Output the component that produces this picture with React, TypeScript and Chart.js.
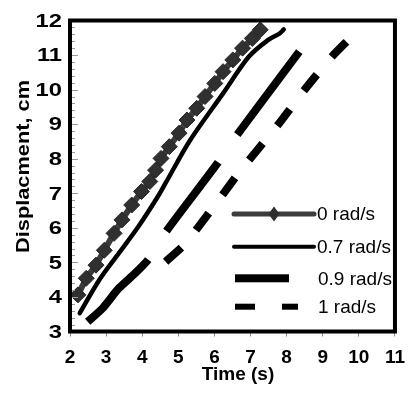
import React, { useEffect, useRef } from "react";
import { Chart, registerables } from "chart.js";

Chart.register(...registerables);

const seriesLabels = ["0 rad/s", "0.7 rad/s", "0.9 rad/s", "1 rad/s"];

const s0x = [2.22, 2.45, 2.72, 2.95, 3.22, 3.44, 3.71, 3.98, 4.21, 4.37, 4.52, 4.75, 5.02, 5.24, 5.51, 5.74, 6.01, 6.24, 6.51, 6.78, 7.05, 7.27];
const s0y = [4.06, 4.54, 4.92, 5.35, 5.84, 6.23, 6.66, 7.05, 7.34, 7.67, 8.01, 8.35, 8.74, 9.12, 9.46, 9.8, 10.18, 10.52, 10.86, 11.2, 11.48, 11.73];

const s1x = [2.27, 2.81, 3.35, 3.89, 4.43, 4.65, 5.33, 6.24, 6.95, 7.49, 7.81, 7.92];
const s1y = [3.53, 4.49, 5.26, 6.03, 6.9, 7.3, 8.54, 9.89, 10.95, 11.44, 11.63, 11.74];

const s2x = [2.49, 2.9, 3.35, 3.8, 4.16, 4.66, 6.05, 6.59, 8.35];
const s2y = [3.28, 3.67, 4.25, 4.68, 5.07, 5.89, 7.82, 8.64, 11.1];

const s3x = [4.65, 5.2, 6.32, 6.73, 7.76, 8.53, 9.25, 9.75];
const s3y = [5.02, 5.55, 7.09, 7.67, 8.98, 10.04, 10.95, 11.48];

const xTicks = [2, 3, 4, 5, 6, 7, 8, 9, 10, 11];
const yTicks = [3, 4, 5, 6, 7, 8, 9, 10, 11, 12];

const xTitle = "Time (s)";
const yTitle = "Displacment, cm";

const FONT = "'Liberation Sans', Arial, sans-serif";

const pts = (xs: number[], ys: number[]) => xs.map((x, i) => ({ x, y: ys[i] }));

const framePlugin = {
  id: "frame",
  afterDraw(chart: any) {
    const { ctx, chartArea } = chart;
    const { left, right, top, bottom } = chartArea;
    const yScale = chart.scales.y;
    ctx.save();
    ctx.strokeStyle = "#999";
    ctx.lineWidth = 1;
    for (let v = yTicks[0]; v <= yTicks[yTicks.length - 1] + 1e-6; v += 0.2) {
      const py = Math.round(yScale.getPixelForValue(v)) + 0.5;
      const major = Math.abs(v - Math.round(v)) < 1e-6;
      ctx.beginPath();
      ctx.moveTo(left + 2, py);
      ctx.lineTo(left + (major ? 8 : 5), py);
      ctx.stroke();
    }
    ctx.strokeStyle = "#000";
    ctx.lineWidth = 4;
    ctx.strokeRect(left, top, right - left, bottom - top);

    ctx.fillStyle = "#000";
    ctx.font = `bold 19px ${FONT}`;
    ctx.textAlign = "right";
    ctx.textBaseline = "middle";
    yTicks.forEach((v) => {
      ctx.save();
      ctx.translate(62, yScale.getPixelForValue(v) + 1);
      ctx.scale(1.25, 1);
      ctx.fillText(String(v), 0, 0);
      ctx.restore();
    });

    ctx.textAlign = "center";
    ctx.fillText(xTitle, 238, 375);

    ctx.save();
    ctx.translate(24, 166.5);
    ctx.rotate(-Math.PI / 2);
    ctx.font = `bold 18px ${FONT}`;
    const w = ctx.measureText(yTitle).width;
    ctx.scale(173 / w, 1);
    ctx.fillText(yTitle, 0, 0);
    ctx.restore();

    const rows = [214, 246.7, 278.3, 306.7];
    ctx.lineCap = "round";
    ctx.strokeStyle = "#3d3d3d";
    ctx.lineWidth = 5;
    ctx.beginPath();
    ctx.moveTo(234, rows[0]);
    ctx.lineTo(314, rows[0]);
    ctx.stroke();
    ctx.fillStyle = "#2e2e2e";
    ctx.beginPath();
    ctx.moveTo(274, rows[0] - 7.5);
    ctx.lineTo(279.5, rows[0]);
    ctx.lineTo(274, rows[0] + 7.5);
    ctx.lineTo(268.5, rows[0]);
    ctx.closePath();
    ctx.fill();
    ctx.strokeStyle = "#000";
    ctx.lineWidth = 4;
    ctx.beginPath();
    ctx.moveTo(234, rows[1]);
    ctx.lineTo(314, rows[1]);
    ctx.stroke();
    ctx.fillStyle = "#000";
    ctx.fillRect(235, rows[2] - 4, 54, 8);
    ctx.fillRect(235, rows[3] - 3, 20, 6);
    ctx.fillRect(282, rows[3] - 3, 16, 6);

    ctx.font = `19px ${FONT}`;
    ctx.textAlign = "left";
    ctx.textBaseline = "middle";
    ctx.fillText(seriesLabels[0], 317, rows[0] + 1);
    ctx.fillText(seriesLabels[1], 317, rows[1] + 1);
    ctx.fillText(seriesLabels[2], 318, rows[2] + 1);
    ctx.fillText(seriesLabels[3], 318, rows[3] + 1);
    ctx.restore();
  },
};

export default function App() {
  const ref = useRef<HTMLCanvasElement>(null);
  useEffect(() => {
    if (!ref.current) return;
    const chart = new Chart(ref.current, {
      type: "line",
      data: {
        datasets: [
          {
            label: seriesLabels[0],
            data: pts(s0x, s0y),
            borderColor: "#3a3a3a",
            borderWidth: 6,
            pointStyle: "rectRot",
            pointRadius: 8,
            pointBackgroundColor: "#303030",
            pointBorderColor: "#262626",
            pointBorderWidth: 1,
            tension: 0,
          },
          {
            label: seriesLabels[1],
            data: pts(s1x, s1y),
            borderColor: "#000",
            borderWidth: 4.5,
            pointRadius: 0,
            tension: 0.3,
            borderCapStyle: "round",
          },
          {
            label: seriesLabels[2],
            data: pts(s2x, s2y),
            borderColor: "#000",
            borderWidth: 8,
            borderDash: [87, 34, 86, 34, 130, 10],
            pointRadius: 0,
            tension: 0.2,
            borderCapStyle: "butt",
          },
          {
            label: seriesLabels[3],
            data: pts(s3x, s3y),
            borderColor: "#000",
            borderWidth: 8,
            borderDash: [21, 23],
            pointRadius: 0,
            tension: 0.2,
            borderCapStyle: "butt",
          },
        ],
      },
      options: {
        animation: false,
        responsive: false,
        layout: { padding: { top: 20.5, right: 12, left: 0, bottom: 0 } },
        plugins: { legend: { display: false }, tooltip: { enabled: false } },
        scales: {
          x: {
            type: "linear",
            min: xTicks[0],
            max: xTicks[xTicks.length - 1],
            afterBuildTicks: (s: any) => {
              s.ticks = xTicks.map((v) => ({ value: v }));
            },
            afterFit: (s: any) => {
              s.height = 61.5;
            },
            grid: { drawOnChartArea: false, drawTicks: true, tickLength: 5, color: "#888" },
            border: { display: false },
            ticks: {
              color: "#000",
              font: { family: FONT, size: 19, weight: "bold" },
              padding: 10,
              maxRotation: 0,
              autoSkip: false,
            },
          },
          y: {
            type: "linear",
            min: yTicks[0],
            max: yTicks[yTicks.length - 1],
            afterBuildTicks: (s: any) => {
              s.ticks = yTicks.map((v) => ({ value: v }));
            },
            afterFit: (s: any) => {
              s.width = 70;
            },
            grid: { display: false },
            border: { display: false },
            ticks: { display: false },
          },
        },
      },
      plugins: [framePlugin],
    } as any);
    return () => chart.destroy();
  }, []);
  return (
    <div style={{ position: "fixed", left: 0, top: 0, width: 415, height: 393, background: "#fff" }}>
      <canvas ref={ref} width={415} height={393} style={{ width: 415, height: 393 }} />
    </div>
  );
}
